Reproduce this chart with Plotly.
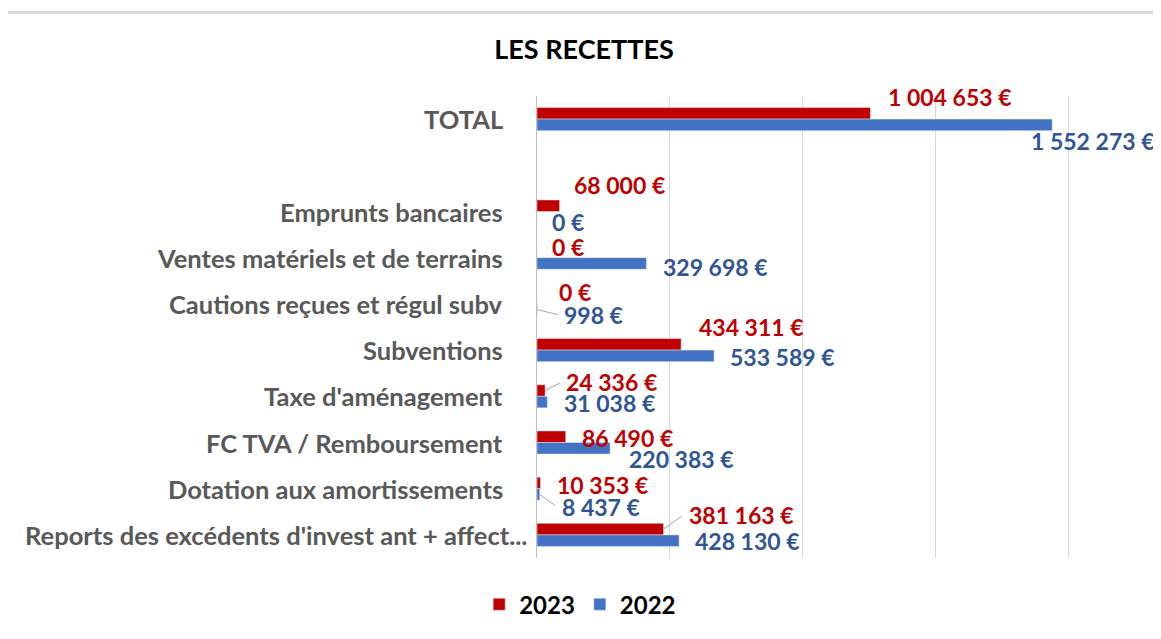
import plotly.graph_objects as go

# catégories (de haut en bas) ; " " = ligne vide sous TOTAL
categories = [
    "TOTAL",
    " ",
    "Emprunts bancaires",
    "Ventes matériels et de terrains",
    "Cautions reçues et régul subv",
    "Subventions",
    "Taxe d'aménagement",
    "FC TVA / Remboursement",
    "Dotation aux amortissements",
    "Reports des excédents d'invest ant + affect...",
]
recettes_2023 = [1004653, None, 68000, 0, 0, 434311, 24336, 86490, 10353, 381163]
recettes_2022 = [1552273, None, 0, 329698, 998, 533589, 31038, 220383, 8437, 428130]

# décalage des étiquettes (px, à droite / vers le bas) par rapport à la fin de barre
decal_2023 = [(16, -22), None, (12, -27), (13, -11), (20, -12), (16, -23), (19, -14), (14, -5), (15, -4), (23, -20)]
decal_2022 = [(-23, 22), None, (13, 10), (15, 9), (25, 11), (14, 7), (15, 7), (17, 16), (20, 18), (14, 6)]
lignes_2023 = [6, 9]
lignes_2022 = [4, 8]

ROUGE = "#C00000"
BLEU = "#4472C4"
BLEU_TXT = "#2F5597"
GRIS = "#595959"
POLICE = "Lato"


def euros(v):
    return f"{v:,}".replace(",", " ") + " €"


fig = go.Figure()
fig.add_trace(go.Bar(y=categories, x=recettes_2023, name="2023", orientation="h",
                     marker_color=ROUGE, hoverinfo="x+y"))
fig.add_trace(go.Bar(y=categories, x=recettes_2022, name="2022", orientation="h",
                     marker_color=BLEU, hoverinfo="x+y"))

annotations = []
demi_barre = 5.8

for serie, decal, couleur, sens, lignes in [
    (recettes_2023, decal_2023, ROUGE, -1, lignes_2023),
    (recettes_2022, decal_2022, BLEU_TXT, 1, lignes_2022),
]:
    for i, (cat, v) in enumerate(zip(categories, serie)):
        if v is None:
            continue
        dx, dy = decal[i]
        annotations.append(dict(
            x=v, y=cat, xref="x", yref="y", text="<b>" + euros(v) + "</b>",
            showarrow=False, xanchor="left", yanchor="middle",
            xshift=dx, yshift=-dy,
            font=dict(family=POLICE, size=23, color=couleur),
        ))
        if i in lignes:
            # ligne de repère
            off = sens * demi_barre
            annotations.append(dict(
                x=v, y=cat, xref="x", yref="y", text="",
                showarrow=True, arrowhead=0, arrowwidth=1, arrowcolor="#A6A6A6",
                ax=dx - 3, ay=dy - off, standoff=0,
                yshift=-off,
            ))

# libellés des catégories
for cat in categories:
    if cat.strip() == "":
        continue
    decal_x = -8 if cat.startswith("Reports") else -32
    annotations.append(dict(
        x=0, y=cat, xref="paper", yref="y", text="<b>" + cat + "</b>",
        showarrow=False, xanchor="right", yanchor="middle", xshift=decal_x,
        font=dict(family=POLICE, size=25.5, color=GRIS),
    ))

# la page ajoute une marge de 8 px autour du graphique
fig.update_layout(
    width=1153,
    height=631,
    barmode="group",
    bargap=0.5,
    bargroupgap=0,
    plot_bgcolor="white",
    paper_bgcolor="white",
    margin=dict(l=529, r=91, t=88, b=79),
    title=dict(
        text="<b>LES RECETTES</b>",
        x=0.4996, xanchor="center", y=0.9334, yanchor="middle",
        font=dict(family=POLICE, size=27, color="black"),
    ),
    legend=dict(
        orientation="h",
        x=0.081, xanchor="center",
        y=-0.101, yanchor="middle",
        font=dict(family=POLICE, size=24, color="black", weight="bold"),
        traceorder="normal",
    ),
    annotations=annotations,
    shapes=[dict(
        type="line", xref="paper", yref="paper",
        x0=-1.0, x1=1.18, y0=1.181, y1=1.181,
        line=dict(color="#D9D9D9", width=3),
    )],
    showlegend=True,
)

fig.update_xaxes(
    range=[0, 1606000],
    dtick=400000,
    showgrid=True,
    gridcolor="#D9D9D9",
    showticklabels=False,
    zeroline=False,
)
fig.update_yaxes(
    range=[len(categories) - 0.5, -0.5],
    showticklabels=False,
    showgrid=False,
    showline=True,
    linecolor="#BFBFBF",
    ticks="",
)

fig.write_html("out.html")
